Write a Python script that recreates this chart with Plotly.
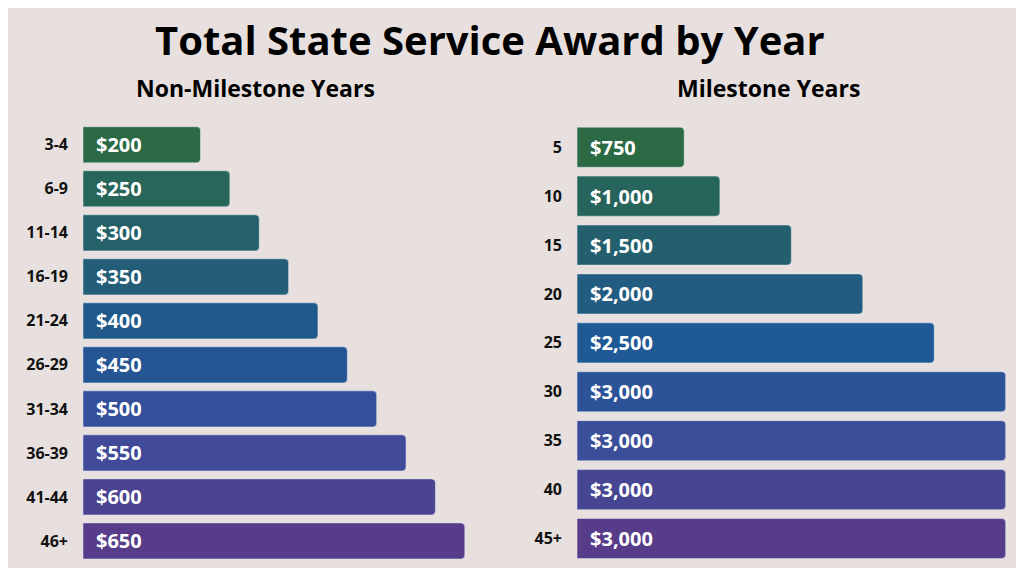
import plotly.graph_objects as go

left_cats = ["3-4", "6-9", "11-14", "16-19", "21-24", "26-29", "31-34", "36-39", "41-44", "46+"]
left_vals = [200, 250, 300, 350, 400, 450, 500, 550, 600, 650]
right_cats = ["5", "10", "15", "20", "25", "30", "35", "40", "45+"]
right_vals = [750, 1000, 1500, 2000, 2500, 3000, 3000, 3000, 3000]

left_colors = ["#2B6A45", "#28665A", "#256168", "#235D78", "#215A8A", "#265594",
               "#35509A", "#404A98", "#4C4390", "#573C8A"]
right_colors = ["#2B6A45", "#27645C", "#245F6E", "#225C80", "#1F5A96",
                "#2C5398", "#3A4E99", "#474693", "#573C8A"]

font = "Open Sans"
fig = go.Figure()
fig.add_trace(go.Bar(
    y=left_cats, x=left_vals, orientation="h", xaxis="x", yaxis="y",
    marker=dict(color=left_colors, cornerradius=4),
    text=["\u2002$" + f"{v:,}" for v in left_vals], textposition="inside",
    insidetextanchor="start", textangle=0,
    textfont=dict(family=font, size=20, color="white", weight="bold"),
))
fig.add_trace(go.Bar(
    y=right_cats, x=right_vals, orientation="h", xaxis="x2", yaxis="y2",
    marker=dict(color=right_colors, cornerradius=4),
    text=["\u2002$" + f"{v:,}" for v in right_vals], textposition="inside",
    insidetextanchor="start", textangle=0,
    textfont=dict(family=font, size=20, color="white", weight="bold"),
))

ax = dict(visible=False, showgrid=False, zeroline=False)
ytick = dict(family=font, size=16, color="#111", weight="bold")
fig.update_layout(
    width=1008, height=560, showlegend=False, bargap=0.18,
    paper_bgcolor="#E8E0DF", plot_bgcolor="#E8E0DF",
    margin=dict(l=0, r=0, t=0, b=0),
    xaxis=dict(ax, domain=[0.0744, 0.459], range=[0, 660]),
    xaxis2=dict(ax, domain=[0.5645, 0.994], range=[0, 3030]),
    yaxis=dict(domain=[0.009, 0.795], autorange="reversed", showgrid=False,
               ticks="", tickfont=ytick, ticklabelstandoff=14, anchor="x"),
    yaxis2=dict(domain=[0.009, 0.795], autorange="reversed", showgrid=False,
                ticks="", tickfont=ytick, ticklabelstandoff=14, anchor="x2"),
    annotations=[
        dict(text="Total State Service Award by Year", x=0.478, y=0.943,
             xanchor="center", yanchor="middle",
             xref="paper", yref="paper", showarrow=False,
             font=dict(family=font, size=40, color="black", weight="bold")),
        dict(text="Non-Milestone Years", x=0.246, y=0.857,
             xanchor="center", yanchor="middle",
             xref="paper", yref="paper", showarrow=False,
             font=dict(family=font, size=23, color="black", weight="bold")),
        dict(text="Milestone Years", x=0.754, y=0.857,
             xanchor="center", yanchor="middle",
             xref="paper", yref="paper", showarrow=False,
             font=dict(family=font, size=23, color="black", weight="bold")),
    ],
)
fig.write_html("out.html")
